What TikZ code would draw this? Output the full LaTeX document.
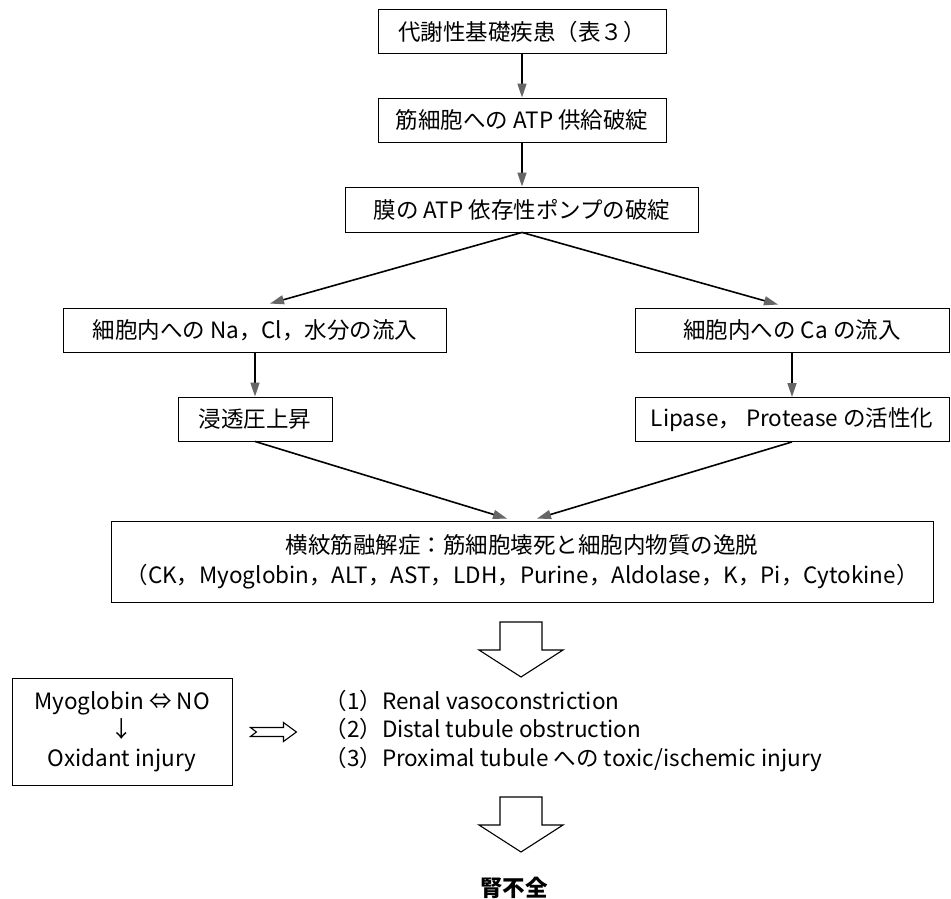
\documentclass[tikz,border=0pt]{standalone}
\usepackage{fontspec}
\setmainfont{Noto Sans CJK JP}
\usetikzlibrary{arrows.meta}
\tikzset{
  box/.style={draw, line width=0.9pt, minimum height=44pt, inner sep=0pt, align=center},
  flow/.style={line width=1.6pt, -{Triangle[length=14pt,width=9pt,color=black!60]}},
  hollow/.style={draw, line width=1.1pt, line join=miter},
}

\begin{document}
\begin{tikzpicture}[x=1pt, y=-1pt, font=\fontsize{22.5}{28.5}\selectfont]
  \useasboundingbox (0,0) rectangle (951,899);

  \node[box, minimum width=288pt] (disease) at (522,31.5) {代謝性基礎疾患（表３）};
  \node[box, minimum width=288pt] (atpsupply) at (522,120) {筋細胞への ATP 供給破綻};
  \node[box, minimum width=353pt, minimum height=45pt] (pump) at (522,209.5) {膜の ATP 依存性ポンプの破綻};
  \node[box, minimum width=383pt] (nacl) at (255,330) {細胞内への Na，Cl，水分の流入};
  \node[box, minimum width=314pt] (caflow) at (792,330) {細胞内への Ca の流入};
  \node[box, minimum width=154pt] (osmotic) at (255,419) {浸透圧上昇};
  \node[box, minimum width=314pt] (lipase) at (792,419.5) {Lipase， Protease の活性化};
  \node[box, minimum width=822pt, minimum height=81pt] (rhabdo) at (522,561.5)
    {横紋筋融解症：筋細胞壊死と細胞内物質の逸脱\\[1.5pt]（CK，Myoglobin，ALT，AST，LDH，Purine，Aldolase，K，Pi，Cytokine）};
  \node[box, minimum width=220pt, minimum height=107pt] (myoglobin) at (122,731.5)
    {Myoglobin ⇔ NO\\↓\\Oxidant injury};
  \node[anchor=west, align=left] (mech) at (321,731)
    {（1）Renal vasoconstriction\\（2）Distal tubule obstruction\\（3）Proximal tubule への toxic/ischemic injury};
  \node[font=\fontsize{22.5}{28.5}\selectfont\bfseries] (failure) at (514,888) {腎不全};

  \draw[flow] (disease) -- (atpsupply);
  \draw[flow] (atpsupply) -- (pump);
  \draw[flow] (pump.south) -- ([xshift=15pt,yshift=4pt]nacl.north);
  \draw[flow] (pump.south) -- ([xshift=-14pt,yshift=3pt]caflow.north);
  \draw[flow] (nacl) -- (osmotic);
  \draw[flow] (caflow) -- (lipase);
  \draw[flow] (osmotic.south) -- ([xshift=-15pt,yshift=2pt]rhabdo.north);
  \draw[flow] (lipase.south) -- ([xshift=15pt,yshift=2pt]rhabdo.north);

  \coordinate (down1) at (521,622);
  \coordinate (down2) at (521,797);
  \foreach \c in {down1,down2}
    \draw[hollow] (\c) ++(-21,0) -- ++(42,0) -- ++(0,28) -- ++(21,0) -- ++(-42,27) -- ++(-42,-27) -- ++(21,0) -- cycle;
  \draw[hollow] ([xshift=18pt,yshift=4pt]myoglobin.east) -- ++(33,0) -- ++(0,-5) -- ++(13,9.5) -- ++(-13,9.5)
    -- ++(0,-5) -- ++(-33,0) -- ++(6,-4.5) -- cycle;
\end{tikzpicture}
\end{document}
